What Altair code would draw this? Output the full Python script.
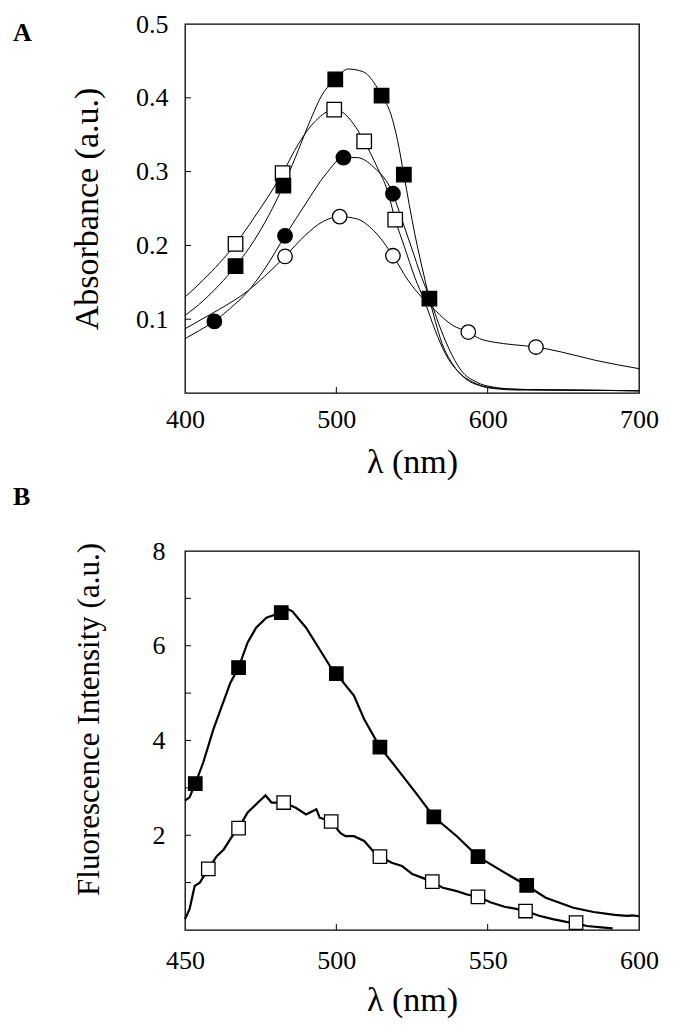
import altair as alt
import pandas as pd

FONT = "Liberation Serif"

# ---------------- Panel A: absorbance spectra ----------------
a_fsq_x = [400, 412, 433.4, 445.8, 465, 472.9, 481.9, 490.9, 499.3, 507.8, 518, 524.7, 529.9, 536, 540.5,
           544.6, 551.8, 558.6, 561.5, 565.3, 569.9, 576.6, 585.6, 594.7, 604, 620, 650, 700]
a_fsq_y = [0.105, 0.125, 0.172, 0.207, 0.281, 0.319, 0.365, 0.405, 0.425, 0.439, 0.435, 0.421, 0.403, 0.378,
           0.342, 0.296, 0.216, 0.153, 0.128, 0.098, 0.067, 0.040, 0.019, 0.010, 0.006, 0.004, 0.004, 0.003]

a_osq_x = [400, 412, 433.4, 445.8, 464.5, 475.1, 486.4, 498.6, 504.4, 511.2, 518.4, 527, 533.8, 538.9, 545,
           551.8, 558.6, 565.3, 572.1, 581, 590, 600, 620, 650, 700]
a_osq_y = [0.130, 0.153, 0.202, 0.238, 0.298, 0.338, 0.369, 0.384, 0.380, 0.365, 0.341, 0.306, 0.274, 0.235,
           0.198, 0.157, 0.123, 0.085, 0.053, 0.028, 0.015, 0.008, 0.005, 0.004, 0.003]

a_fci_x = [400, 409.7, 419.4, 430, 441.3, 452.6, 466.1, 479.6, 493.2, 504.7, 513.5, 524.7, 537.4, 542.8, 549.5,
           556.3, 561.5, 567.6, 574.4, 582.3, 592.4, 603.7, 620, 650, 700]
a_fci_y = [0.0736, 0.085, 0.097, 0.115, 0.137, 0.168, 0.213, 0.256, 0.297, 0.319, 0.319, 0.306, 0.270, 0.238,
           0.198, 0.157, 0.130, 0.094, 0.060, 0.031, 0.015, 0.008, 0.005, 0.004, 0.003]

a_oci_x = [400, 412, 423.2, 441.3, 452.6, 466.1, 479.6, 490.9, 502.2, 513.5, 524.7, 537.4, 547.3, 556.3, 565.3,
           576.6, 587.2, 594.7, 603.7, 617.2, 631.9, 648.8, 671.4, 700]
a_oci_y = [0.087, 0.101, 0.114, 0.138, 0.158, 0.185, 0.214, 0.232, 0.239, 0.236, 0.220, 0.186, 0.153, 0.130,
           0.112, 0.092, 0.0826, 0.0736, 0.069, 0.0654, 0.0623, 0.0555, 0.0442, 0.033]

# markers, panel A
a_m_fsq_x = [433.4, 465, 499.3, 529.9, 544.6, 561.5]
a_m_fsq_y = [0.172, 0.281, 0.425, 0.403, 0.296, 0.128]
a_m_osq_x = [433.4, 464.5, 498.6, 518.4, 538.9]
a_m_osq_y = [0.202, 0.298, 0.384, 0.341, 0.235]
a_m_fci_x = [419.4, 466.1, 504.7, 537.4]
a_m_fci_y = [0.097, 0.213, 0.319, 0.270]
a_m_oci_x = [466.1, 502.2, 537.4, 587.2, 631.9]
a_m_oci_y = [0.185, 0.239, 0.186, 0.0826, 0.0623]

a_x_labels = [400, 500, 600, 700]
a_y_labels = [0.1, 0.2, 0.3, 0.4, 0.5]
a_x_inner_ticks = [500, 600]
a_y_inner_ticks = [0.1, 0.2, 0.3, 0.4]

# ---------------- Panel B: fluorescence spectra ----------------
b_fsq_x = [450, 451.5, 453.4, 456, 459.4, 462.2, 465, 467.7, 470.7, 473.5, 476.9, 481.8, 483.7, 485.4, 490,
           494.5, 497.9, 500, 505.8, 509.2, 514.4, 519.4, 526.2, 532.2, 539.8, 546.8, 555.6, 562.9, 569.2,
           578.3, 585, 592, 596, 598, 600]
b_fsq_y = [2.73, 2.80, 3.09, 3.53, 4.24, 4.73, 5.22, 5.54, 6.07, 6.38, 6.59, 6.70, 6.78, 6.73, 6.38,
           5.92, 5.57, 5.41, 4.95, 4.45, 3.86, 3.46, 2.90, 2.39, 1.98, 1.55, 1.21, 0.94, 0.68,
           0.47, 0.38, 0.32, 0.30, 0.31, 0.29]

b_osq_x = [450, 451.5, 453.2, 454.9, 457.7, 460.5, 462.8, 465.6, 467.7, 470.7, 474.1, 476.6, 478.6, 482.6,
           486.6, 490, 493.4, 494.5, 498.3, 501.3, 503, 505.8, 509.2, 512.6, 514.4, 518.3, 521.7, 525.1,
           528.5, 531.7, 535.2, 539.8, 543.2, 546.8, 551.1, 555.6, 559, 562.5, 567, 571.5, 576, 579.2,
           582.8, 588.5, 591.3]
b_osq_y = [0.23, 0.44, 0.93, 1.00, 1.29, 1.56, 1.70, 1.98, 2.15, 2.48, 2.69, 2.84, 2.69, 2.69,
           2.58, 2.44, 2.55, 2.37, 2.29, 2.05, 1.98, 1.98, 1.88, 1.63, 1.55, 1.42, 1.35, 1.18,
           1.10, 1.02, 0.89, 0.82, 0.75, 0.70, 0.58, 0.49, 0.45, 0.40, 0.30, 0.23, 0.17, 0.14,
           0.084, 0.05, 0.035]

b_m_fsq_x = [453.4, 467.7, 481.8, 500.0, 514.4, 532.2, 546.8, 562.9]
b_m_fsq_y = [3.09, 5.54, 6.70, 5.41, 3.86, 2.39, 1.55, 0.943]
b_m_osq_x = [457.7, 467.7, 482.6, 498.3, 514.4, 531.7, 546.8, 562.5, 579.2]
b_m_osq_y = [1.29, 2.15, 2.69, 2.29, 1.55, 1.02, 0.70, 0.40, 0.155]

b_x_labels = [450, 500, 550, 600]
b_y_labels = [2, 4, 6, 8]
b_x_inner_ticks = [500, 550]
b_y_inner_ticks = [1, 2, 3, 4, 5, 6, 7]


def long_df(series):
    rows = []
    for name, (xs, ys) in series.items():
        for x, y in zip(xs, ys):
            rows.append({"series": name, "x": x, "y": y})
    return pd.DataFrame(rows)


def panel(curves, markers, xdom, ydom, xlabels, ylabels, yfmt, xin, yin, W, H,
          xtitle, ytitle, letter, letter_dx, letter_dy, line_w, interp, msize,
          x_lpad, x_tpad, y_lpad, y_tpad, y_tsize, y_title_y=None):
    xaxis = alt.Axis(values=xlabels, format="d", title=xtitle, labelFontSize=26,
                     labelPadding=x_lpad, titleFontSize=34, titlePadding=x_tpad)
    yargs = dict(values=ylabels, format=yfmt, title=ytitle, labelFontSize=26,
                 labelPadding=y_lpad, titleFontSize=y_tsize, titlePadding=y_tpad)
    if y_title_y is not None:
        yargs["titleY"] = y_title_y
    yaxis = alt.Axis(**yargs)
    xenc = alt.X("x:Q", scale=alt.Scale(domain=xdom, nice=False, zero=False), axis=xaxis)
    yenc = alt.Y("y:Q", scale=alt.Scale(domain=ydom, nice=False, zero=False), axis=yaxis)

    layers = []
    layers.append(
        alt.Chart(long_df(curves)).mark_line(color="black", strokeWidth=line_w, interpolate=interp)
        .encode(x=xenc, y=yenc, detail="series:N")
    )
    for (shape, fill, xs, ys) in markers:
        layers.append(
            alt.Chart(pd.DataFrame({"x": xs, "y": ys}))
            .mark_point(shape=shape, filled=True, fill=fill, stroke="black", strokeWidth=1.3,
                        size=msize, opacity=1)
            .encode(x=xenc, y=yenc)
        )
    # inner tick marks
    layers.append(
        alt.Chart(pd.DataFrame({"y": yin})).mark_rule(color="black", strokeWidth=1)
        .encode(y=yenc, x=alt.value(0), x2=alt.value(6))
    )
    layers.append(
        alt.Chart(pd.DataFrame({"x": xin})).mark_rule(color="black", strokeWidth=1)
        .encode(x=xenc, y=alt.value(H), y2=alt.value(H - 6))
    )
    # panel letter
    layers.append(
        alt.Chart(pd.DataFrame({"t": [letter]}))
        .mark_text(font=FONT, fontSize=26, fontWeight="bold", align="left", baseline="top", color="black")
        .encode(text="t:N", x=alt.value(letter_dx), y=alt.value(letter_dy))
    )
    return alt.layer(*layers).properties(width=W, height=H)


chart_a = panel(
    {"fsq": (a_fsq_x, a_fsq_y), "osq": (a_osq_x, a_osq_y),
     "fci": (a_fci_x, a_fci_y), "oci": (a_oci_x, a_oci_y)},
    [("circle", "white", a_m_oci_x, a_m_oci_y),
     ("circle", "black", a_m_fci_x, a_m_fci_y),
     ("square", "white", a_m_osq_x, a_m_osq_y),
     ("square", "black", a_m_fsq_x, a_m_fsq_y)],
    [400, 700], [0, 0.5], a_x_labels, a_y_labels, ".1f", a_x_inner_ticks, a_y_inner_ticks,
    454, 369, "λ (nm)", "Absorbance (a.u.)", "A", -172, -4, 1.0, "monotone", 210,
    13, 13, 17, 31, 34,
)

chart_b = panel(
    {"fsq": (b_fsq_x, b_fsq_y), "osq": (b_osq_x, b_osq_y)},
    [("square", "white", b_m_osq_x, b_m_osq_y),
     ("square", "black", b_m_fsq_x, b_m_fsq_y)],
    [450, 600], [0, 8], b_x_labels, b_y_labels, "d", b_x_inner_ticks, b_y_inner_ticks,
    454, 379, "λ (nm)", "Fluorescence Intensity (a.u.)", "B", -172, -67, 2.2, "linear", 180,
    17, 10, 20, 47, 31, y_title_y=168,
)

chart = (
    alt.vconcat(chart_a, chart_b, spacing=3)
    .properties(padding={"left": 4, "top": 2, "right": 5, "bottom": 5})
    .configure_view(stroke="black", strokeWidth=1.3)
    .configure_axis(labelFont=FONT, titleFont=FONT, labelColor="black", titleColor="black",
                    titleFontWeight="normal", grid=False, domain=False, ticks=False, tickSize=0,
                    labelFlush=False, labelOverlap=False)
)

chart.save("out.html", embed_options={"renderer": "svg", "actions": False})
